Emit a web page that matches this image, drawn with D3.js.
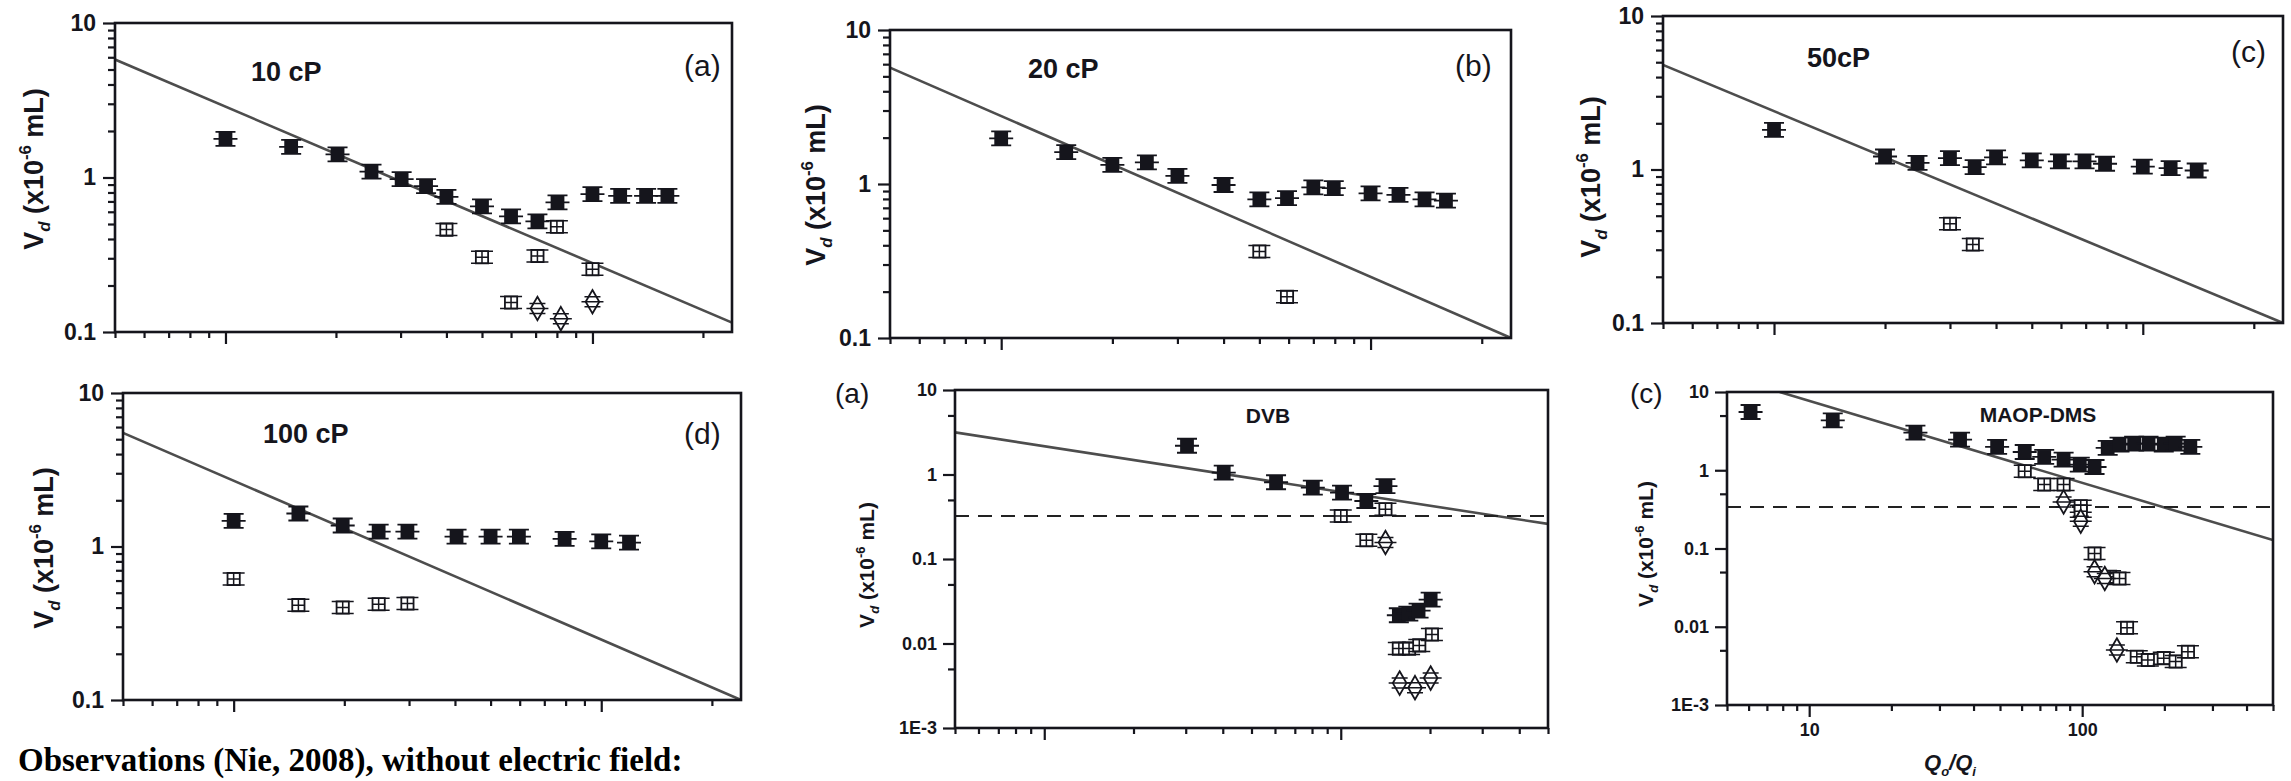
<!DOCTYPE html>
<html><head><meta charset="utf-8">
<script src="https://cdn.jsdelivr.net/npm/d3@7"></script>
<style>body{margin:0;background:#fff;overflow:hidden}svg{display:block}</style>
</head><body>
<svg id="chart" width="2291" height="781"></svg>
<script>
// ---------------- DATA ----------------
const xTopDomain = [5, 240];
const xBottomDomain = [5, 500];
const yTopDomain = [0.1, 10];
const yBottomDomain = [0.001, 10];

const yTopTicks = [0.1, 1, 10];
const yTopTickLabels = ["0.1", "1", "10"];
const yBottomTicks = [0.001, 0.01, 0.1, 1, 10];
const yBottomTickLabels = ["1E-3", "0.01", "0.1", "1", "10"];
const yBottomMinor = [0.005, 0.05, 0.5, 5];
const xMaopTicks = [10, 100];
const xMaopTickLabels = ["10", "100"];

const panelLetters = ["(a)", "(b)", "(c)", "(d)", "(a)", "(c)"];
const panelNames = ["10 cP", "20 cP", "50cP", "100 cP", "DVB", "MAOP-DMS"];
const footnote = "Observations (Nie, 2008), without electric field:";

const cp10Filled = [[10,1.78],[15.1,1.58],[20.2,1.41],[25,1.09],[30.2,0.975],[35.2,0.88],[40,0.75],[50,0.65],[60,0.56],[70.8,0.52],[80.3,0.69],[100,0.78],[119,0.76],[140,0.76],[160,0.76]];
const cp10Square = [[40,0.46],[50,0.305],[60,0.155],[70.8,0.31],[80,0.48],[100,0.255]];
const cp10Diamond = [[70.8,0.142],[82,0.122],[100,0.157]];
const cp10Line = [[5,5.8],[240,0.115]];

const cp20Filled = [[10,1.98],[15,1.61],[20,1.33],[24.8,1.38],[30,1.13],[40,0.985],[50,0.795],[59.4,0.81],[70,0.95],[79.5,0.94],[100,0.87],[119,0.85],[140,0.795],[160,0.78]];
const cp20Square = [[50,0.364],[59.4,0.185]];
const cp20Line = [[5,5.7],[240,0.1]];

const cp50Filled = [[10,1.81],[20,1.215],[24.5,1.105],[30,1.185],[35,1.035],[40,1.2],[50,1.145],[59.6,1.13],[69.5,1.13],[79,1.09],[100,1.045],[119,1.02],[140,0.985]];
const cp50Square = [[30,0.443],[34.6,0.325]];
const cp50Line = [[5,4.8],[240,0.1]];

const cp100Filled = [[10,1.47],[15,1.64],[19.8,1.37],[24.8,1.25],[29.7,1.25],[40.4,1.16],[50,1.16],[59.7,1.16],[79.5,1.12],[100,1.08],[119,1.06]];
const cp100Square = [[10,0.614],[15,0.415],[19.8,0.40],[24.8,0.42],[29.7,0.425]];
const cp100Line = [[5,5.5],[240,0.1]];

const dvbFilled = [[30.3,2.19],[40.3,1.05],[60.5,0.81],[80.5,0.70],[101,0.61],[122,0.486],[141.5,0.73],[157,0.0216],[169,0.0226],[183,0.0245],[201,0.033]];
const dvbSquare = [[100,0.323],[122,0.167],[141.5,0.388],[157,0.0087],[170,0.0087],[184,0.0095],[203,0.0128]];
const dvbDiamond = [[141.5,0.157],[158,0.0034],[178,0.0030],[201,0.0039]];
const dvbLine = [[5,3.15],[500,0.26]];
const dvbCritical = 0.323;

const maopFilled = [[6.1,5.55],[12.2,4.35],[24.5,3.03],[35.7,2.46],[48.8,1.99],[61.6,1.71],[72.6,1.48],[85.5,1.37],[98,1.18],[111,1.10],[124,1.93],[137,2.13],[155,2.19],[175,2.19],[199,2.13],[220,2.19],[249,1.99]];
const maopSquare = [[61.6,0.97],[72.6,0.656],[85.5,0.656],[98.8,0.347],[98.8,0.30],[111,0.0863],[126.5,0.0435],[137,0.0414],[146,0.0097],[158.5,0.00414],[174,0.00375],[199,0.00397],[220,0.0036],[244,0.0048]];
const maopDiamond = [[85.5,0.394],[98.8,0.223],[111,0.0504],[121,0.0414],[134,0.00504]];
const maopLine = [[7.8,10],[500,0.128]];
const maopCritical = 0.34;

// ---------------- LAYOUT / STYLE ----------------
const INK = "#15151c";
const SANS = "'Liberation Sans', Arial, Helvetica, sans-serif";
const panels = [
  {box:[115,23,732,332], xd:xTopDomain, yd:yTopDomain, kind:"top", filled:cp10Filled, square:cp10Square, diamond:cp10Diamond, line:cp10Line,
   name:{x:251,y:81,anchor:"start"}, letter:{x:684,y:76}, ytitle:{x:33,y:169}},
  {box:[890,30,1511,338], xd:xTopDomain, yd:yTopDomain, kind:"top", filled:cp20Filled, square:cp20Square, diamond:[], line:cp20Line,
   name:{x:1028,y:78,anchor:"start"}, letter:{x:1455,y:76}, ytitle:{x:815,y:185}},
  {box:[1663,16,2283,323], xd:xTopDomain, yd:yTopDomain, kind:"top", filled:cp50Filled, square:cp50Square, diamond:[], line:cp50Line,
   name:{x:1807,y:67,anchor:"start"}, letter:{x:2231,y:62}, ytitle:{x:1590,y:177}},
  {box:[123,393,741,700], xd:xTopDomain, yd:yTopDomain, kind:"top", filled:cp100Filled, square:cp100Square, diamond:[], line:cp100Line,
   name:{x:263,y:443,anchor:"start"}, letter:{x:684,y:444}, ytitle:{x:43,y:548}},
  {box:[955,390,1548,728], xd:xBottomDomain, yd:yBottomDomain, kind:"bottom", filled:dvbFilled, square:dvbSquare, diamond:dvbDiamond, line:dvbLine, critical:dvbCritical,
   name:{x:1268,y:423,anchor:"middle"}, letter:{x:835,y:403}, ytitle:{x:866,y:565}},
  {box:[1727,392,2273,705], xd:xBottomDomain, yd:yBottomDomain, kind:"bottom", filled:maopFilled, square:maopSquare, diamond:maopDiamond, line:maopLine, critical:maopCritical,
   name:{x:2038,y:422,anchor:"middle"}, letter:{x:1630,y:403}, ytitle:{x:1645,y:544}, xlabels:true}
];

function logTicks(domain) {
  const out = [];
  for (let e = Math.floor(Math.log10(domain[0])); e <= Math.ceil(Math.log10(domain[1])); e++)
    for (let m = 1; m <= 9; m++) {
      const v = +(m * Math.pow(10, e)).toPrecision(6);
      if (v >= domain[0] * 0.999 && v <= domain[1] * 1.001) out.push({v, major: m === 1});
    }
  return out;
}

const svg = d3.select("#chart");
svg.append("rect").attr("width", 2291).attr("height", 781).attr("fill", "#fff");

panels.forEach((p, i) => {
  const [L, T, R, B] = p.box;
  const x = d3.scaleLog().domain(p.xd).range([L, R]);
  const y = d3.scaleLog().domain(p.yd).range([B, T]);
  const g = svg.append("g");
  const top = p.kind === "top";

  const clipId = "clip" + i;
  svg.append("clipPath").attr("id", clipId).append("rect")
    .attr("x", L).attr("y", T).attr("width", R - L).attr("height", B - T);

  g.append("path").datum(p.line)
    .attr("clip-path", `url(#${clipId})`)
    .attr("d", d3.line().x(d => x(d[0])).y(d => y(d[1])))
    .attr("fill", "none").attr("stroke", "#4d4d4d").attr("stroke-width", 2.6);

  if (p.critical !== undefined) {
    g.append("path").datum(p.xd.map(v => [v, p.critical]))
      .attr("d", d3.line().x(d => x(d[0])).y(d => y(d[1])))
      .attr("fill", "none").attr("stroke", "#222").attr("stroke-width", 2)
      .attr("stroke-dasharray", "14,9");
  }

  const xt = logTicks(p.xd);
  const xMinor = xt.filter(t => !t.major).map(t => t.v);
  const xMajor = xt.filter(t => t.major).map(t => t.v);
  const axMinor = g.append("g").attr("transform", `translate(0,${B})`)
    .call(d3.axisBottom(x).tickValues(xMinor).tickSize(6).tickSizeOuter(0).tickFormat(""));
  const axMajor = g.append("g").attr("transform", `translate(0,${B})`)
    .call(d3.axisBottom(x).tickValues(p.xlabels ? xMaopTicks : xMajor).tickSize(12).tickSizeOuter(0).tickPadding(6)
      .tickFormat(p.xlabels ? ((d, k) => xMaopTickLabels[k]) : ""));

  let yMinor, yMajor, yLabels;
  if (top) {
    yMinor = logTicks(p.yd).filter(t => !t.major).map(t => t.v);
    yMajor = yTopTicks; yLabels = yTopTickLabels;
  } else {
    yMinor = yBottomMinor; yMajor = yBottomTicks; yLabels = yBottomTickLabels;
  }
  const ayMinor = g.append("g").attr("transform", `translate(${L},0)`)
    .call(d3.axisLeft(y).tickValues(yMinor).tickSize(7).tickSizeOuter(0).tickFormat(""));
  const ayMajor = g.append("g").attr("transform", `translate(${L},0)`)
    .call(d3.axisLeft(y).tickValues(yMajor).tickSize(12).tickSizeOuter(0).tickPadding(top ? 7 : 6)
      .tickFormat((d, k) => yLabels[k]));

  [axMinor, axMajor, ayMinor, ayMajor].forEach(a => {
    a.select(".domain").remove();
    a.selectAll("line").attr("stroke", INK).attr("stroke-width", 2.2);
    a.selectAll("text").attr("fill", INK).attr("font-family", SANS).attr("font-weight", "bold")
      .attr("font-size", top ? 23 : 18);
  });

  g.append("rect").attr("x", L).attr("y", T).attr("width", R - L).attr("height", B - T)
    .attr("fill", "none").attr("stroke", INK).attr("stroke-width", 2.6);

  const sq = d3.symbol(d3.symbolSquare, 190)();
  const sqOpen = d3.symbol(d3.symbolSquare, 150)();
  const dia = d3.symbol(d3.symbolDiamond, 160)();

  const fm = g.append("g").selectAll("g").data(p.filled).join("g")
    .attr("transform", d => `translate(${x(d[0])},${y(d[1])})`);
  fm.append("path").attr("d", "M-12,0H12M-10,-7H10M-10,7H10").attr("stroke", INK).attr("stroke-width", 1.8);
  fm.append("path").attr("d", sq).attr("fill", INK);

  const om = g.append("g").selectAll("g").data(p.square).join("g")
    .attr("transform", d => `translate(${x(d[0])},${y(d[1])})`);
  om.append("path").attr("d", sqOpen).attr("fill", "#fff").attr("stroke", INK).attr("stroke-width", 1.8);
  om.append("path").attr("d", "M-11,-6H11M-11,6H11M-6,0H6M0,-6V6").attr("stroke", INK).attr("stroke-width", 1.5);

  const dm = g.append("g").selectAll("g").data(p.diamond).join("g")
    .attr("transform", d => `translate(${x(d[0])},${y(d[1])})`);
  dm.append("path").attr("d", dia).attr("fill", "#fff").attr("stroke", INK).attr("stroke-width", 1.8);
  dm.append("path").attr("d", "M-11,0H11M-8,-5H8M-8,5H8").attr("stroke", INK).attr("stroke-width", 1.5);

  g.append("text").attr("x", p.name.x).attr("y", p.name.y).attr("text-anchor", p.name.anchor)
    .attr("font-family", SANS).attr("font-weight", "bold").attr("font-size", top ? 27 : 21)
    .attr("fill", INK).text(panelNames[i]);
  g.append("text").attr("x", p.letter.x).attr("y", p.letter.y)
    .attr("font-family", SANS).attr("font-size", top ? 30 : 28).attr("fill", INK).text(panelLetters[i]);

  const fs = top ? 27 : 21;
  const yt = g.append("text").attr("transform", `translate(${p.ytitle.x},${p.ytitle.y}) rotate(-90)`)
    .attr("text-anchor", "middle").attr("y", fs * 0.36)
    .attr("font-family", SANS).attr("font-weight", "bold").attr("font-size", fs).attr("fill", INK);
  yt.append("tspan").text("V");
  yt.append("tspan").attr("dy", fs * 0.28).attr("font-size", fs * 0.62).attr("font-style", "italic").text("d");
  yt.append("tspan").attr("dy", -fs * 0.28).text(" (x10");
  yt.append("tspan").attr("dy", -fs * 0.42).attr("font-size", fs * 0.62).text("-6");
  yt.append("tspan").attr("dy", fs * 0.42).text(" mL)");

  if (p.xlabels) {
    const xtl = g.append("text").attr("x", 1950).attr("y", 770).attr("text-anchor", "middle")
      .attr("font-family", SANS).attr("font-weight", "bold").attr("font-style", "italic")
      .attr("font-size", 22).attr("fill", INK);
    xtl.append("tspan").text("Q");
    xtl.append("tspan").attr("dy", 6).attr("font-size", 13).text("o");
    xtl.append("tspan").attr("dy", -6).text("/Q");
    xtl.append("tspan").attr("dy", 6).attr("font-size", 13).text("i");
  }
});

svg.append("text").attr("x", 18).attr("y", 771)
  .attr("font-family", "'Liberation Serif', 'Times New Roman', serif").attr("font-weight", "bold")
  .attr("font-size", 33).attr("fill", "#000").text(footnote);
</script>
</body></html>
